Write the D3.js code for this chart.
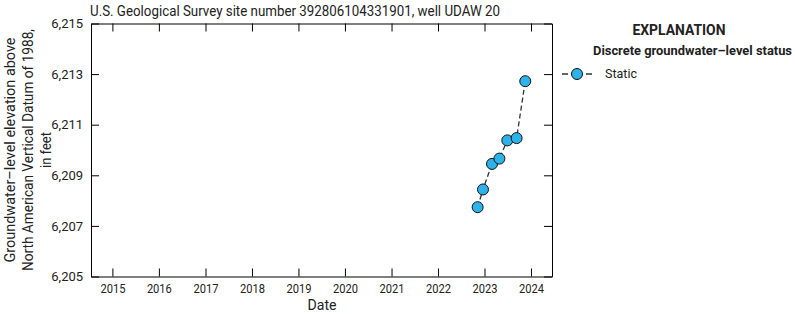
<!DOCTYPE html>
<html>
<head>
<meta charset="utf-8">
<script src="https://cdn.jsdelivr.net/npm/d3@7"></script>
<style>
  body { margin: 0; background: #fff; }
  text { font-family: "Roboto", "Liberation Sans", sans-serif; fill: #222; }
</style>
</head>
<body>
<svg width="795" height="314"></svg>
<script>
const svg = d3.select("svg");

// measurement dates and water levels (feet above NAVD 88)
const dates = ["2022-11-08", "2022-12-20", "2023-03-01", "2023-04-28", "2023-06-29", "2023-09-10", "2023-11-17"];
const levels = [6207.74, 6208.44, 6209.45, 6209.66, 6210.38, 6210.47, 6212.72];
const yTicks = [6205, 6207, 6209, 6211, 6213, 6215];
const xTickYears = [2015, 2016, 2017, 2018, 2019, 2020, 2021, 2022, 2023, 2024];

const parse = d3.timeParse("%Y-%m-%d");
const data = dates.map((d, i) => ({ date: parse(d), value: levels[i] }));

const margin = { left: 91, right: 243, top: 23.5, bottom: 37.5 };
const W = 795, H = 314;

const x = d3.scaleTime()
  .domain([new Date(2014, 6, 17), new Date(2024, 5, 14)])
  .range([margin.left, W - margin.right]);
const y = d3.scaleLinear()
  .domain([6205, 6215])
  .range([H - margin.bottom, margin.top]);

const tickLen = 8;
const xTickDates = xTickYears.map(yr => new Date(yr, 0, 1));

// bottom axis
svg.append("g")
  .attr("transform", `translate(0,${y(6205)})`)
  .call(d3.axisBottom(x).tickValues(xTickDates).tickFormat(d3.timeFormat("%Y")).tickSizeInner(-tickLen).tickSizeOuter(0).tickPadding(7))
  .call(g => g.selectAll("text").attr("font-size", 13).attr("textLength", 25).attr("lengthAdjust", "spacingAndGlyphs"));
// top axis
svg.append("g")
  .attr("transform", `translate(0,${y(6215)})`)
  .call(d3.axisTop(x).tickValues(xTickDates).tickFormat("").tickSizeInner(-tickLen).tickSizeOuter(0));
// left axis
svg.append("g")
  .attr("transform", `translate(${x.range()[0]},0)`)
  .call(d3.axisLeft(y).tickValues(yTicks).tickFormat(d3.format(",")).tickSizeInner(-tickLen).tickSizeOuter(0).tickPadding(4))
  .call(g => g.selectAll("text").attr("font-size", 13).attr("dx", "-0.3em"));
// right axis
svg.append("g")
  .attr("transform", `translate(${x.range()[1]},0)`)
  .call(d3.axisRight(y).tickValues(yTicks).tickFormat("").tickSizeInner(-tickLen).tickSizeOuter(0));

svg.selectAll(".domain").attr("stroke", "#000");
svg.selectAll(".tick line").attr("stroke", "#000");
svg.selectAll(".tick text").attr("fill", "#222").attr("font-family", "Roboto, sans-serif");

// title
svg.append("text")
  .attr("x", 90).attr("y", 16)
  .attr("font-size", 15)
  .attr("textLength", 410).attr("lengthAdjust", "spacingAndGlyphs")
  .text("U.S. Geological Survey site number 392806104331901, well UDAW 20");

// x label
svg.append("text")
  .attr("x", 322).attr("y", 310)
  .attr("text-anchor", "middle").attr("font-size", 15)
  .attr("textLength", 29).attr("lengthAdjust", "spacingAndGlyphs")
  .text("Date");

// y label
const yLab = svg.append("text")
  .attr("transform", `translate(15,150) rotate(-90)`)
  .attr("text-anchor", "middle").attr("font-size", 14);
const yLines = ["Groundwater–level elevation above", "North American Vertical Datum of 1988,", "in feet"];
const yLens = [225, 242, 36];
yLines.forEach((t, i) => {
  yLab.append("tspan").attr("x", 0).attr("dy", i === 0 ? 0 : 18)
    .attr("textLength", yLens[i]).attr("lengthAdjust", "spacingAndGlyphs")
    .text(t);
});

// line
const line = d3.line().x(d => x(d.date)).y(d => y(d.value));
svg.append("path")
  .datum(data)
  .attr("d", line)
  .attr("fill", "none")
  .attr("stroke", "#333")
  .attr("stroke-width", 1.3)
  .attr("stroke-dasharray", "5,3");

svg.append("g").selectAll("circle")
  .data(data)
  .join("circle")
  .attr("cx", d => x(d.date))
  .attr("cy", d => y(d.value))
  .attr("r", 5.5)
  .attr("fill", "#2eb2ea")
  .attr("stroke", "#111")
  .attr("stroke-width", 1);

// legend
const leg = svg.append("g");
leg.append("text").attr("x", 679).attr("y", 35).attr("text-anchor", "middle")
  .attr("font-size", 15).attr("font-weight", "bold")
  .attr("textLength", 93).attr("lengthAdjust", "spacingAndGlyphs").text("EXPLANATION");
leg.append("text").attr("x", 593).attr("y", 55)
  .attr("font-size", 13).attr("font-weight", "bold")
  .attr("textLength", 199).attr("lengthAdjust", "spacingAndGlyphs").text("Discrete groundwater–level status");
leg.append("line").attr("x1", 561).attr("x2", 593).attr("y1", 74).attr("y2", 74)
  .attr("stroke", "#333").attr("stroke-width", 1.3).attr("stroke-dasharray", "6,6").attr("stroke-dashoffset", -1);
leg.append("circle").attr("cx", 577).attr("cy", 74).attr("r", 5.5)
  .attr("fill", "#2eb2ea").attr("stroke", "#111");
leg.append("text").attr("x", 605).attr("y", 78).attr("font-size", 13)
  .attr("textLength", 32).attr("lengthAdjust", "spacingAndGlyphs").text("Static");
</script>
</body>
</html>
